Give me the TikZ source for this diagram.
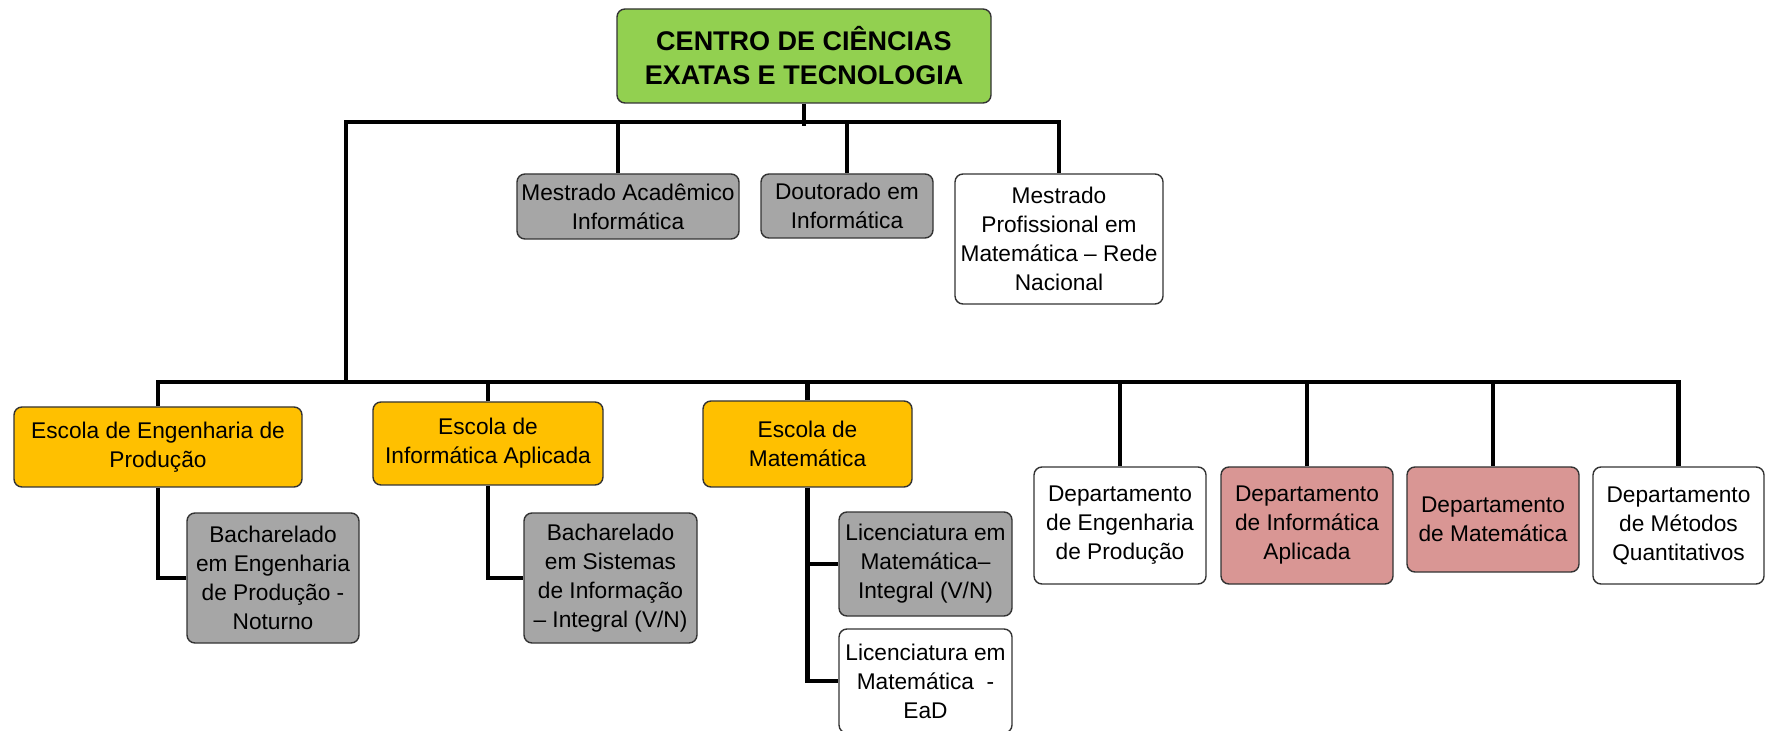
\documentclass[tikz,border=0pt]{standalone}
\usepackage{fontspec}
\setmainfont{Liberation Sans}
\usetikzlibrary{backgrounds}
\definecolor{verde}{RGB}{146,208,80}
\definecolor{laranja}{RGB}{255,192,0}
\definecolor{cinza}{RGB}{166,166,166}
\definecolor{rosa}{RGB}{217,150,148}
\begin{document}
\begin{tikzpicture}[x=0.5pt, y=-0.5pt,
  caixa/.style={draw=black!80, line width=0.7pt, rounded corners=4pt, align=center, inner sep=0pt, font=\fontsize{11.35}{14.5}\selectfont},
  centro/.style={caixa, fill=verde, font=\fontsize{13.5}{17}\selectfont\bfseries},
  escola/.style={caixa, fill=laranja},
  curso/.style={caixa, fill=cinza},
  livre/.style={caixa, fill=white},
  depto/.style={caixa, fill=rosa},
  ligacao/.style={line width=2.4pt, line join=miter}]
\useasboundingbox (0,0) rectangle (1765,731);
% centro e pos-graduacao
\node[centro, minimum width=187pt, minimum height=47pt] (ccet) at (804,56) {CENTRO DE CIÊNCIAS\\EXATAS E TECNOLOGIA};
\node[curso, minimum width=111pt, minimum height=32.5pt] (mac) at (628,206.5) {Mestrado Acadêmico\\Informática};
\node[curso, minimum width=86pt, minimum height=32pt] (dout) at (847,206) {Doutorado em\\Informática};
\node[livre, minimum width=104pt, minimum height=65pt] (mpr) at (1059,239) {Mestrado\\Profissional em\\Matemática -- Rede\\Nacional};
% escolas
\node[escola, minimum width=144pt, minimum height=40pt] (eep) at (158,447) {Escola de Engenharia de\\Produção};
\node[escola, minimum width=115pt, minimum height=41.5pt] (eia) at (488,443.5) {Escola de\\Informática Aplicada};
\node[escola, minimum width=104.5pt, minimum height=43pt] (emat) at (807.5,444) {Escola de\\Matemática};
% cursos de graduacao
\node[curso, minimum width=86pt, minimum height=65pt] (bep) at (273,578) {Bacharelado\\em Engenharia\\de Produção -\\Noturno};
\node[curso, minimum width=86.5pt, minimum height=65pt] (bsi) at (610.5,578) {Bacharelado\\em Sistemas\\de Informação\\-- Integral (V/N)};
\node[curso, minimum width=86.5pt, minimum height=52pt] (lmi) at (925.5,564) {Licenciatura em\\Matemática--\\Integral (V/N)};
\node[livre, minimum width=86.5pt, minimum height=52pt] (lme) at (925.5,681) {Licenciatura em\\Matemática~~-\\EaD};
% departamentos
\node[livre, minimum width=86pt, minimum height=58.5pt] (dep) at (1120,525.5) {Departamento\\de Engenharia\\de Produção};
\node[depto, minimum width=86pt, minimum height=58.5pt] (dia) at (1307,525.5) {Departamento\\de Informática\\Aplicada};
\node[depto, minimum width=86pt, minimum height=52.5pt] (dmat) at (1493,519.5) {Departamento\\de Matemática};
\node[livre, minimum width=85.5pt, minimum height=58.5pt] (dmq) at (1678.5,525.5) {Departamento\\de Métodos\\Quantitativos};
\coordinate (tb) at (804,122);
\coordinate (bb) at (346,382);
\begin{scope}[on background layer]
\draw[ligacao] (ccet.south) -- ([yshift=-2pt]tb);
\draw[ligacao] (bb) -- (bb |- tb) -| (mpr.north);
\draw[ligacao] ([xshift=-5pt]mac.north) -- ([xshift=-5pt]mac.north |- tb);
\draw[ligacao] (dout.north) -- (dout.north |- tb);
\draw[ligacao] (eep.north) |- (bb) -| (dmq.north);
\foreach \n in {eia,emat,dep,dia,dmat}
  \draw[ligacao] (\n.north) -- (\n.north |- bb);
\draw[ligacao] (eep.south) |- (bep.west);
\draw[ligacao] (eia.south) |- (bsi.west);
\draw[ligacao] (emat.south) |- (lmi.west);
\draw[ligacao] (emat.south) |- (lme.west);
\end{scope}
\end{tikzpicture}
\end{document}
